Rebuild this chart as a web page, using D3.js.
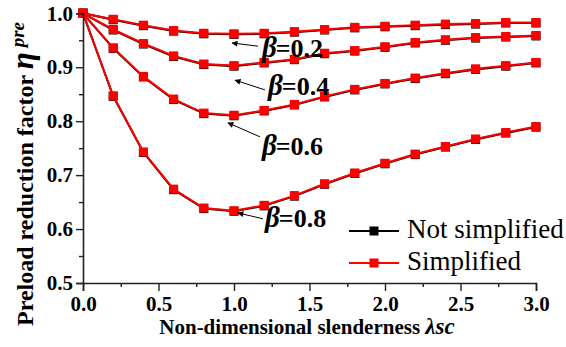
<!DOCTYPE html>
<html>
<head>
<meta charset="utf-8">
<script src="https://cdn.jsdelivr.net/npm/d3@7"></script>
<style>
  body { margin: 0; background: #fff; }
</style>
</head>
<body>
<script>
// slenderness values
var lambdas = [0, 0.2, 0.4, 0.6, 0.8, 1.0, 1.2, 1.4, 1.6, 1.8, 2.0, 2.2, 2.4, 2.6, 2.8, 3.0]

// simplified (red)
var simp02 = [1, 0.989, 0.978, 0.968, 0.963, 0.962, 0.963, 0.966, 0.970, 0.974, 0.976, 0.978, 0.980, 0.981, 0.983, 0.983]
var simp04 = [1, 0.970, 0.944, 0.921, 0.906, 0.903, 0.909, 0.915, 0.926, 0.931, 0.938, 0.946, 0.951, 0.955, 0.957, 0.959]
var simp06 = [1, 0.936, 0.883, 0.841, 0.815, 0.811, 0.820, 0.831, 0.846, 0.859, 0.870, 0.880, 0.889, 0.897, 0.903, 0.909]
var simp08 = [1, 0.847, 0.743, 0.674, 0.639, 0.634, 0.644, 0.662, 0.684, 0.704, 0.722, 0.739, 0.753, 0.767, 0.779, 0.790]

// not simplified (black, almost hidden under the red)
var full02 = [1, 0.988, 0.977, 0.967, 0.962, 0.961, 0.962, 0.965, 0.969, 0.973, 0.975, 0.977, 0.979, 0.980, 0.982, 0.982]
var full04 = [1, 0.969, 0.943, 0.920, 0.905, 0.902, 0.908, 0.914, 0.925, 0.930, 0.937, 0.945, 0.950, 0.954, 0.956, 0.958]
var full06 = [1, 0.935, 0.882, 0.840, 0.814, 0.810, 0.819, 0.830, 0.845, 0.858, 0.869, 0.879, 0.888, 0.896, 0.902, 0.908]
var full08 = [1, 0.846, 0.742, 0.673, 0.638, 0.633, 0.643, 0.661, 0.683, 0.703, 0.721, 0.738, 0.752, 0.766, 0.778, 0.789]

var xTicks = [0, 0.5, 1.0, 1.5, 2.0, 2.5, 3.0]
var yTicks = [0.5, 0.6, 0.7, 0.8, 0.9, 1.0]

// annotation labels: beta value, arrow tip, arrow tail, text anchor (data units)
var betaLabels = ["0.2", "0.4", "0.6", "0.8"]
var arrowTips = [[0.987, 0.945], [1.007, 0.876], [0.960, 0.797], [1.026, 0.630]]
var arrowTails = [[1.159, 0.939], [1.205, 0.858], [1.172, 0.771], [1.192, 0.619]]
var labelAt = [[1.185, 0.919], [1.225, 0.849], [1.185, 0.738], [1.205, 0.604]]

var legendNames = ["Not simplified", "Simplified"]
var legendColors = ["#000", "#ff0000"]

var W = 566, H = 347
var FONT = "Liberation Serif"

var svg = d3.select("body").append("svg")
    .attr("width", W)
    .attr("height", H)
    .attr("font-family", FONT)

var x = d3.scaleLinear().domain([0, 3]).range([83, 536])
var y = d3.scaleLinear().domain([0.5, 1.0]).range([283, 13.3])

var defs = svg.append("defs")
defs.append("marker")
    .attr("id", "head")
    .attr("viewBox", "0 0 10 10")
    .attr("refX", 9).attr("refY", 5)
    .attr("markerWidth", 10).attr("markerHeight", 6)
    .attr("markerUnits", "userSpaceOnUse")
    .attr("orient", "auto")
  .append("path")
    .attr("d", "M0,0 L10,5 L0,10 z")
    .attr("fill", "#000")

var line = d3.line()
    .x(function (d, i) { return x(lambdas[i]) })
    .y(function (d) { return y(d) })

function drawSeries(vals, color) {
  var g = svg.append("g")
  g.append("path")
      .attr("d", line(vals))
      .attr("fill", "none")
      .attr("stroke", color)
      .attr("stroke-width", 2)
  g.selectAll("rect")
      .data(vals)
      .enter()
      .append("rect")
      .attr("x", function (d, i) { return x(lambdas[i]) - 4.5 })
      .attr("y", function (d) { return y(d) - 4.5 })
      .attr("width", 9)
      .attr("height", 9)
      .attr("fill", color)
}

;[full02, full04, full06, full08].forEach(function (s) { drawSeries(s, "#000") })
;[simp02, simp04, simp06, simp08].forEach(function (s) { drawSeries(s, "#ff0000") })

// axes
var xAxis = svg.append("g")
    .attr("transform", "translate(0," + y(0.5) + ")")
    .call(d3.axisBottom(x).tickValues(xTicks).tickSize(8).tickFormat(d3.format(".1f")))
var xMinor = svg.append("g")
    .attr("transform", "translate(0," + y(0.5) + ")")
    .call(d3.axisBottom(x).tickValues(d3.range(0.25, 3, 0.5)).tickSize(4).tickFormat(""))

var yAxis = svg.append("g")
    .attr("transform", "translate(" + x(0) + ",0)")
    .call(d3.axisLeft(y).tickValues(yTicks).tickSize(7).tickFormat(d3.format(".1f")))
var yMinor = svg.append("g")
    .attr("transform", "translate(" + x(0) + ",0)")
    .call(d3.axisLeft(y).tickValues([0.55, 0.65, 0.75, 0.85, 0.95]).tickSize(4).tickFormat(""))

svg.selectAll("g").attr("font-family", FONT)
svg.selectAll(".domain").attr("stroke", "#222").attr("stroke-width", 1.6)
svg.selectAll(".tick line").attr("stroke", "#222").attr("stroke-width", 1.4)
xMinor.select(".domain").remove()
yMinor.select(".domain").remove()

xAxis.selectAll(".tick text")
    .attr("font-family", FONT)
    .attr("font-size", 21).attr("font-weight", "bold").attr("fill", "#000")
    .attr("dy", "0.8em")
yAxis.selectAll(".tick text")
    .attr("font-family", FONT)
    .attr("font-size", 21).attr("font-weight", "bold").attr("fill", "#000")
    .attr("x", -10)

// axis titles
var xt = svg.append("text")
    .attr("x", 307).attr("y", 334)
    .attr("text-anchor", "middle")
    .attr("font-family", FONT)
    .attr("font-size", 21).attr("font-weight", "bold")
xt.append("tspan").text("Non-dimensional slenderness ")
xt.append("tspan").attr("font-style", "italic").attr("font-size", 23).text("λsc")

var yt = svg.append("text")
    .attr("transform", "translate(33,174) rotate(-90)")
    .attr("text-anchor", "middle")
    .attr("font-family", FONT)
    .attr("font-size", 24).attr("font-weight", "bold")
yt.append("tspan").text("Preload reduction factor ")
yt.append("tspan").attr("font-style", "italic").attr("font-size", 31).text("η")
yt.append("tspan").attr("font-style", "italic").attr("font-size", 19).attr("dy", -9).attr("dx", 5).text("pre")

// beta annotations
betaLabels.forEach(function (b, i) {
  svg.append("line")
      .attr("x1", x(arrowTails[i][0])).attr("y1", y(arrowTails[i][1]))
      .attr("x2", x(arrowTips[i][0])).attr("y2", y(arrowTips[i][1]))
      .attr("stroke", "#000").attr("stroke-width", 1)
      .attr("marker-end", "url(#head)")
  var t = svg.append("text")
      .attr("x", x(labelAt[i][0])).attr("y", y(labelAt[i][1]))
      .attr("font-family", FONT)
      .attr("font-weight", "bold")
  t.append("tspan").attr("font-style", "italic").attr("font-size", 29).text("β")
  t.append("tspan").attr("font-size", 26).attr("dx", -1).text("=" + b)
})

// legend
legendNames.forEach(function (n, i) {
  var ly = 231 + i * 32
  svg.append("line")
      .attr("x1", 349).attr("x2", 399)
      .attr("y1", ly).attr("y2", ly)
      .attr("stroke", legendColors[i]).attr("stroke-width", 2)
  svg.append("rect")
      .attr("x", 369.5).attr("y", ly - 4.5)
      .attr("width", 9).attr("height", 9)
      .attr("fill", legendColors[i])
  svg.append("text")
      .attr("x", 407).attr("y", ly + 7)
      .attr("font-family", FONT)
      .attr("font-size", 27)
      .text(n)
})
</script>
</body>
</html>
